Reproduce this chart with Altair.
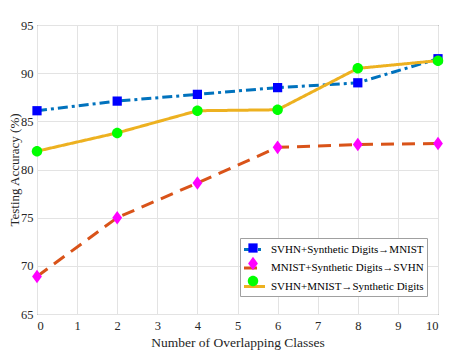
import altair as alt
import pandas as pd

x_vals = [0, 2, 4, 6, 8, 10]
series_names = [
    "SVHN+Synthetic Digits\u2192MNIST",
    "MNIST+Synthetic Digits\u2192SVHN",
    "SVHN+MNIST\u2192Synthetic Digits",
]
svhn_syn_mnist = [86.1, 87.1, 87.8, 88.5, 89.0, 91.5]
mnist_syn_svhn = [68.9, 75.0, 78.6, 82.3, 82.6, 82.7]
svhn_mnist_syn = [81.9, 83.8, 86.1, 86.2, 90.5, 91.3]

line_colors = ["#0072BD", "#D95319", "#EDB120"]
marker_colors = ["#0000FF", "#FF00FF", "#00FF00"]
marker_shapes = [
    "M-0.66,-0.66L0.66,-0.66L0.66,0.66L-0.66,0.66Z",
    "M0,-0.97L0.7,0L0,0.97L-0.7,0Z",
    "M0.75,0A0.75,0.75,0,1,1,-0.75,0A0.75,0.75,0,1,1,0.75,0Z",
]
dashes = [[10, 4, 3, 4], [13, 8], [1, 0]]

rows = []
for name, vals in zip(series_names, [svhn_syn_mnist, mnist_syn_svhn, svhn_mnist_syn]):
    for xv, yv in zip(x_vals, vals):
        rows.append({"x": xv, "acc": yv, "series": name, "marker": name})
df = pd.DataFrame(rows)

font = "Liberation Serif"
xscale = alt.Scale(domain=[0, 10], nice=False, zero=False)
yscale = alt.Scale(domain=[65, 95], nice=False, zero=False)

x_enc = alt.X("x:Q", scale=xscale, title="Number of Overlapping Classes",
              axis=alt.Axis(values=list(range(0, 11)), format="d"))
y_enc = alt.Y("acc:Q", scale=yscale, title="Testing Accuracy (%)",
              axis=alt.Axis(values=[65, 70, 75, 80, 85, 90, 95], format="d",
                            titleX=-23, titleBaseline="middle",
                            titleFontSize=13, labelPadding=4))

LX, LY = 203, 213
common_legend = dict(
    orient="none", legendX=LX, legendY=LY, title=None,
    symbolSize=196, padding=3, rowPadding=3.5,
    symbolOffset=3, labelOffset=8, labelLimit=300,
    labelFont=font, labelFontSize=11,
)

lines = alt.Chart(df).mark_line(strokeWidth=3, strokeCap="butt").encode(
    x=x_enc,
    y=y_enc,
    stroke=alt.Stroke(
        "series:N",
        scale=alt.Scale(domain=series_names, range=line_colors),
        legend=alt.Legend(
            symbolType="M-1.5,0L1.5,0", symbolStrokeWidth=3,
            labelColor="#000000",
            strokeColor="#A0A0A0", fillColor="#FFFFFF",
            **common_legend,
        ),
    ),
    strokeDash=alt.StrokeDash(
        "series:N",
        scale=alt.Scale(domain=series_names, range=dashes),
        legend=None,
    ),
)

points = alt.Chart(df).mark_point(filled=True, opacity=1, size=196).encode(
    x=alt.X("x:Q", scale=xscale),
    y=alt.Y("acc:Q", scale=yscale),
    fill=alt.Fill(
        "marker:N",
        sort=None,
        scale=alt.Scale(range=marker_colors),
        legend=alt.Legend(
            symbolStrokeWidth=0, symbolOpacity=1,
            labelExpr="''",
            **common_legend,
        ),
    ),
    shape=alt.Shape(
        "marker:N",
        sort=None,
        scale=alt.Scale(range=marker_shapes),
    ),
)

chart = alt.layer(lines, points).properties(
    width=401,
    height=289,
    autosize=alt.AutoSizeParams(type="none"),
    padding={"left": 29, "top": 17, "right": 11, "bottom": 40},
    background="#FFFFFF",
).configure_view(
    stroke="#404040", strokeWidth=1
).configure_axis(
    domain=False,
    ticks=False,
    tickSize=0,
    grid=True,
    gridColor="#E3E3E3",
    gridWidth=1,
    labelFont=font,
    labelFontSize=12.5,
    labelColor="#262626",
    labelPadding=5,
    titleFont=font,
    titleFontSize=13.5,
    titleFontWeight="normal",
    titleColor="#262626",
).configure_axisX(
    titlePadding=4,
    labelPadding=5,
)

chart.save("out.html", embed_options={"renderer": "svg", "actions": False})
